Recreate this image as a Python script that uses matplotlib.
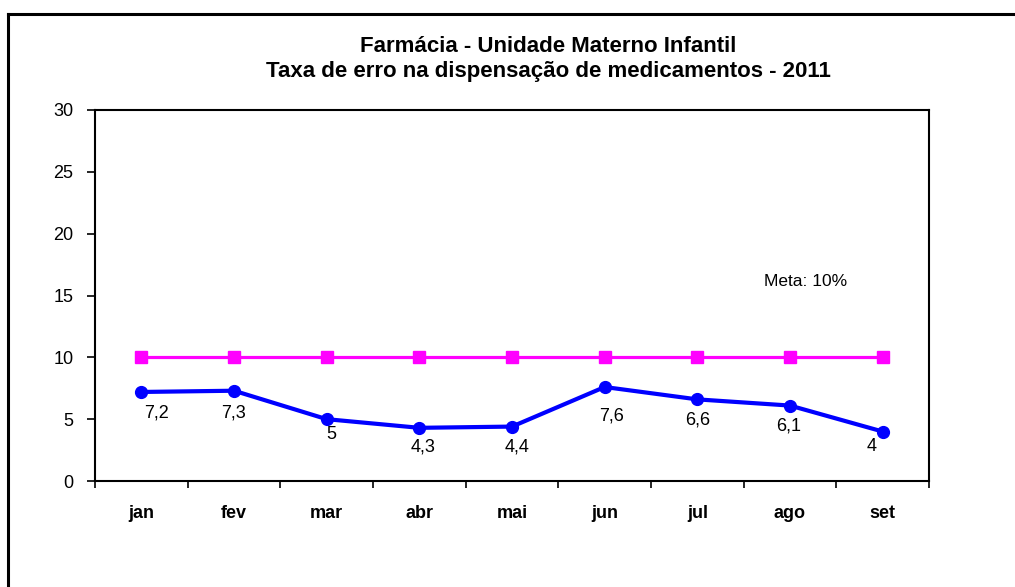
import matplotlib.pyplot as plt
from matplotlib.lines import Line2D

plt.rcParams['font.family'] = ['Liberation Sans', 'DejaVu Sans']

months = ['jan', 'fev', 'mar', 'abr', 'mai', 'jun', 'jul', 'ago', 'set']
taxa = [7.2, 7.3, 5, 4.3, 4.4, 7.6, 6.6, 6.1, 4]
meta = [10, 10, 10, 10, 10, 10, 10, 10, 10]
y_ticks = [0, 5, 10, 15, 20, 25, 30]

# label nudges in points (hand placed in the original)
label_dx = [11, 0, 3, 3, 4, 5, 0, -1, -8]
label_dy = [-15, -16, -11, -14, -15, -21, -15, -15, -11]

fig = plt.figure(figsize=(10.15, 5.87), dpi=100)
ax = fig.add_axes([95 / 1015, 1 - 481 / 587, 834 / 1015, 371 / 587])

x = list(range(len(months)))
ax.plot(x, meta, color='#FF00FF', linewidth=2.3, marker='s', markersize=8,
        zorder=3)
ax.plot(x, taxa, color='#0000FF', linewidth=3, marker='o', markersize=8.5,
        zorder=4)

for i, v in enumerate(taxa):
    txt = f'{v:g}'.replace('.', ',')
    ax.annotate(txt, (i, v), xytext=(label_dx[i], label_dy[i]),
                textcoords='offset points', ha='center', va='center',
                fontsize=13)

ax.set_xlim(-0.5, len(months) - 0.5)
ax.set_ylim(0, 30)
ax.set_yticks(y_ticks)
ax.set_xticks(x)
ax.set_xticklabels(months, fontweight='bold', fontsize=13)
ax.set_xticks([i - 0.5 for i in range(len(months) + 1)], minor=True)
ax.tick_params(axis='x', which='major', length=0, pad=17)
ax.tick_params(axis='x', which='minor', length=5, width=1.2, direction='out')
ax.tick_params(axis='y', length=5.5, width=1.2, labelsize=13, pad=10)

for s in ax.spines.values():
    s.set_linewidth(1.5)
    s.set_color('black')

ax.text(806 / 1015, 1 - 282 / 587, 'Meta: 10%', transform=fig.transFigure,
        ha='center', va='center', fontsize=12.5)

fig.text(548 / 1015, 1 - 46 / 587, 'Farmácia - Unidade Materno Infantil',
         ha='center', va='center', fontsize=16, fontweight='bold')
fig.text(548 / 1015, 1 - 72 / 587,
         'Taxa de erro na dispensação de medicamentos - 2011',
         ha='center', va='center', fontsize=16, fontweight='bold')

# border of the chart area (only top and left visible in the crop)
fig.add_artist(Line2D([8 / 1015, 1], [1 - 14 / 587, 1 - 14 / 587],
                      color='black', linewidth=2.2, transform=fig.transFigure))
fig.add_artist(Line2D([8 / 1015, 8 / 1015], [0, 1 - 14 / 587],
                      color='black', linewidth=2.2, transform=fig.transFigure))

fig.savefig('out.png', dpi=100)
